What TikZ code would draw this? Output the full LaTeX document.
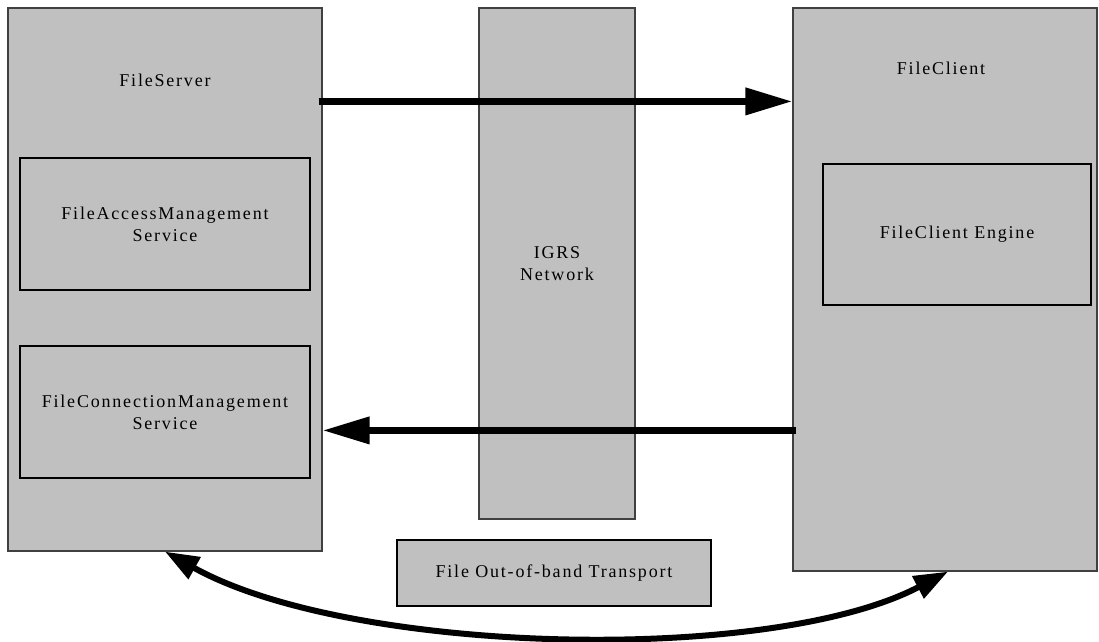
\documentclass[tikz,border=0pt]{standalone}
\usepackage{fontspec}
\setmainfont{Liberation Serif}[LetterSpace=10]
\usetikzlibrary{arrows.meta}
\definecolor{boxgray}{RGB}{192,192,192}
\definecolor{edgegray}{RGB}{64,64,64}
\tikzset{
    OB/.style ={rectangle, inner sep=0pt, draw=edgegray, line width=1.2pt, fill=boxgray},
    IB/.style ={rectangle, inner sep=0pt, draw=black, line width=2pt, fill=boxgray, align=center},
    TX/.style ={align=center},
    AR/.style ={line width=7pt, -{Triangle[length=47pt,width=26pt]}},
    CU/.style ={line width=6pt, {Triangle[length=34pt,width=24pt]}-{Triangle[length=34pt,width=24pt]}}}

\begin{document}
\begin{tikzpicture}[x=1pt,y=-1pt,font=\fontsize{18}{22}\selectfont]
        \useasboundingbox (0,0) rectangle (1099,641);
        % outer blocks
        \node[OB, minimum width=314pt, minimum height=543pt] (server) at (165,279.5){};
        \node[OB, minimum width=156pt, minimum height=511pt, align=center] (network) at (557,263.5){IGRS\\Network};
        \node[OB, minimum width=304pt, minimum height=563pt] (client) at (945,289.5){};
        \node[TX] (servername) at (165,80){FileServer};
        \node[TX] (clientname) at (941,68){FileClient};
        % inner blocks
        \node[IB, minimum width=290pt, minimum height=132pt] (access) at (165,224){FileAccessManagement\\Service};
        \node[IB, minimum width=290pt, minimum height=132pt] (connect) at (165,412){FileConnectionManagement\\Service};
        \node[IB, minimum width=268pt, minimum height=141pt] (engine) at (957,234.5){FileClient Engine};
        \node[IB, minimum width=314pt, minimum height=66pt] (transport) at (554,573){File Out-of-band Transport};
        % arrows
        \draw[AR] ([xshift=-4pt,yshift=-94pt]server.north east) -- ([yshift=-94pt]client.north west);
        \draw[AR] ([xshift=4pt,yshift=-423pt]client.north west) -- ([yshift=-423pt]server.north east);
        \draw[CU] (server.south) .. controls (350,655) and (770,665) .. ([xshift=3pt]client.south);
    \end{tikzpicture}
\end{document}
